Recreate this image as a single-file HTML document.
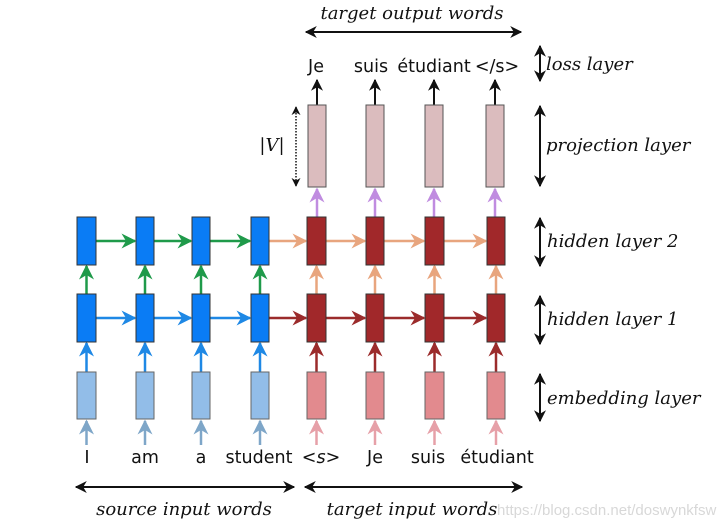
<!DOCTYPE html>
<html><head><meta charset="utf-8"><style>
html,body{margin:0;padding:0;background:#fff;width:728px;height:529px;overflow:hidden}
svg{display:block}
.s{font-family:"DejaVu Sans","Liberation Sans",sans-serif;font-size:17.5px;fill:#111}
.i{font-family:"DejaVu Serif","Liberation Serif",serif;font-style:italic;font-size:18px;fill:#111}
</style></head><body>
<svg width="728" height="529" viewBox="0 0 728 529" xmlns="http://www.w3.org/2000/svg">
<defs>
<marker id="ab" viewBox="0 0 10 10" refX="9" refY="5" markerWidth="6" markerHeight="6" orient="auto-start-reverse"><path d="M0,0 L10,5 L0,10 L3,5z" fill="#111"/></marker>
<marker id="ag" viewBox="0 0 10 10" refX="9" refY="5" markerWidth="6" markerHeight="6" orient="auto"><path d="M0,0 L10,5 L0,10 L3,5z" fill="#1f9a4a"/></marker>
<marker id="abl" viewBox="0 0 10 10" refX="9" refY="5" markerWidth="6" markerHeight="6" orient="auto"><path d="M0,0 L10,5 L0,10 L3,5z" fill="#1e88e5"/></marker>
<marker id="ar" viewBox="0 0 10 10" refX="9" refY="5" markerWidth="6" markerHeight="6" orient="auto"><path d="M0,0 L10,5 L0,10 L3,5z" fill="#9b2b2b"/></marker>
<marker id="ao" viewBox="0 0 10 10" refX="9" refY="5" markerWidth="6" markerHeight="6" orient="auto"><path d="M0,0 L10,5 L0,10 L3,5z" fill="#e8a57e"/></marker>
<marker id="ap" viewBox="0 0 10 10" refX="9" refY="5" markerWidth="6" markerHeight="6" orient="auto"><path d="M0,0 L10,5 L0,10 L3,5z" fill="#c08ce0"/></marker>
<marker id="as" viewBox="0 0 10 10" refX="9" refY="5" markerWidth="6" markerHeight="6" orient="auto"><path d="M0,0 L10,5 L0,10 L3,5z" fill="#7ea6c8"/></marker>
<marker id="ak" viewBox="0 0 10 10" refX="9" refY="5" markerWidth="6" markerHeight="6" orient="auto"><path d="M0,0 L10,5 L0,10 L3,5z" fill="#e6a0a8"/></marker>
</defs>

<text class="i" x="412" y="19" text-anchor="middle">target output words</text>
<line x1="306" y1="32" x2="521" y2="32" stroke="#111" stroke-width="2" marker-start="url(#ab)" marker-end="url(#ab)"/>
<text class="s" x="316" y="72" text-anchor="middle">Je</text>
<text class="s" x="371" y="72" text-anchor="middle">suis</text>
<text class="s" x="434" y="72" text-anchor="middle">étudiant</text>
<text class="s" x="497" y="72" text-anchor="middle">&lt;/s&gt;</text>
<g stroke="#111" stroke-width="2">
<line x1="317" y1="105" x2="317" y2="80" marker-end="url(#ab)"/>
<line x1="375" y1="105" x2="375" y2="80" marker-end="url(#ab)"/>
<line x1="434" y1="105" x2="434" y2="80" marker-end="url(#ab)"/>
<line x1="495" y1="105" x2="495" y2="80" marker-end="url(#ab)"/>
<line x1="540" y1="46" x2="540" y2="81" marker-start="url(#ab)" marker-end="url(#ab)"/>
<line x1="540" y1="106" x2="540" y2="186" marker-start="url(#ab)" marker-end="url(#ab)"/>
<line x1="540" y1="218" x2="540" y2="266" marker-start="url(#ab)" marker-end="url(#ab)"/>
<line x1="540" y1="296" x2="540" y2="344" marker-start="url(#ab)" marker-end="url(#ab)"/>
<line x1="540" y1="374" x2="540" y2="421" marker-start="url(#ab)" marker-end="url(#ab)"/>
<line x1="76" y1="487" x2="294" y2="487" marker-end="url(#ab)" marker-start="url(#ab)"/>
<line x1="305" y1="487" x2="522" y2="487" marker-start="url(#ab)" marker-end="url(#ab)"/>
</g>
<line x1="296" y1="107" x2="296" y2="186" stroke="#111" stroke-width="1.5" stroke-dasharray="1.5,1.5" marker-start="url(#ab)" marker-end="url(#ab)"/>
<text class="i" x="272" y="151" text-anchor="middle">|V|</text>

<text class="i" x="546" y="70">loss layer</text>
<text class="i" x="546" y="151">projection layer</text>
<text class="i" x="547" y="247">hidden layer 2</text>
<text class="i" x="547" y="325">hidden layer 1</text>
<text class="i" x="547" y="404">embedding layer</text>

<g fill="#dbbcbe" stroke="#555" stroke-width="1">
<rect x="308" y="105" width="18" height="82"/><rect x="366" y="105" width="18" height="82"/>
<rect x="425" y="105" width="18" height="82"/><rect x="486" y="105" width="18" height="82"/>
</g>
<g stroke="#c08ce0" stroke-width="2.5">
<line x1="317" y1="217" x2="317" y2="189" marker-end="url(#ap)"/>
<line x1="375" y1="217" x2="375" y2="189" marker-end="url(#ap)"/>
<line x1="434" y1="217" x2="434" y2="189" marker-end="url(#ap)"/>
<line x1="495" y1="217" x2="495" y2="189" marker-end="url(#ap)"/>
</g>

<g stroke-width="2.5">
<line x1="96" y1="241" x2="135" y2="241" stroke="#1f9a4a" marker-end="url(#ag)"/>
<line x1="154" y1="241" x2="191" y2="241" stroke="#1f9a4a" marker-end="url(#ag)"/>
<line x1="210" y1="241" x2="250" y2="241" stroke="#1f9a4a" marker-end="url(#ag)"/>
<line x1="269" y1="241" x2="306" y2="241" stroke="#e8a57e" marker-end="url(#ao)"/>
<line x1="326" y1="241" x2="365" y2="241" stroke="#e8a57e" marker-end="url(#ao)"/>
<line x1="384" y1="241" x2="424" y2="241" stroke="#e8a57e" marker-end="url(#ao)"/>
<line x1="444" y1="241" x2="486" y2="241" stroke="#e8a57e" marker-end="url(#ao)"/>
<line x1="96" y1="318" x2="135" y2="318" stroke="#1e88e5" marker-end="url(#abl)"/>
<line x1="154" y1="318" x2="191" y2="318" stroke="#1e88e5" marker-end="url(#abl)"/>
<line x1="210" y1="318" x2="250" y2="318" stroke="#1e88e5" marker-end="url(#abl)"/>
<line x1="269" y1="318" x2="306" y2="318" stroke="#9b2b2b" marker-end="url(#ar)"/>
<line x1="326" y1="318" x2="365" y2="318" stroke="#9b2b2b" marker-end="url(#ar)"/>
<line x1="384" y1="318" x2="424" y2="318" stroke="#9b2b2b" marker-end="url(#ar)"/>
<line x1="444" y1="318" x2="486" y2="318" stroke="#9b2b2b" marker-end="url(#ar)"/>
</g>
<g stroke-width="2.5">
<line x1="86.5" y1="294" x2="86.5" y2="266" stroke="#1f9a4a" marker-end="url(#ag)"/>
<line x1="145" y1="294" x2="145" y2="266" stroke="#1f9a4a" marker-end="url(#ag)"/>
<line x1="201" y1="294" x2="201" y2="266" stroke="#1f9a4a" marker-end="url(#ag)"/>
<line x1="260" y1="294" x2="260" y2="266" stroke="#1f9a4a" marker-end="url(#ag)"/>
<line x1="316.5" y1="294" x2="316.5" y2="266" stroke="#e8a57e" marker-end="url(#ao)"/>
<line x1="375" y1="294" x2="375" y2="266" stroke="#e8a57e" marker-end="url(#ao)"/>
<line x1="434.5" y1="294" x2="434.5" y2="266" stroke="#e8a57e" marker-end="url(#ao)"/>
<line x1="496" y1="294" x2="496" y2="266" stroke="#e8a57e" marker-end="url(#ao)"/>
<line x1="86.5" y1="372" x2="86.5" y2="343" stroke="#1e88e5" marker-end="url(#abl)"/>
<line x1="145" y1="372" x2="145" y2="343" stroke="#1e88e5" marker-end="url(#abl)"/>
<line x1="201" y1="372" x2="201" y2="343" stroke="#1e88e5" marker-end="url(#abl)"/>
<line x1="260" y1="372" x2="260" y2="343" stroke="#1e88e5" marker-end="url(#abl)"/>
<line x1="316.5" y1="372" x2="316.5" y2="343" stroke="#9b2b2b" marker-end="url(#ar)"/>
<line x1="375" y1="372" x2="375" y2="343" stroke="#9b2b2b" marker-end="url(#ar)"/>
<line x1="434.5" y1="372" x2="434.5" y2="343" stroke="#9b2b2b" marker-end="url(#ar)"/>
<line x1="496" y1="372" x2="496" y2="343" stroke="#9b2b2b" marker-end="url(#ar)"/>
<line x1="86.5" y1="445" x2="86.5" y2="421" stroke="#7ea6c8" marker-end="url(#as)"/>
<line x1="145" y1="445" x2="145" y2="421" stroke="#7ea6c8" marker-end="url(#as)"/>
<line x1="201" y1="445" x2="201" y2="421" stroke="#7ea6c8" marker-end="url(#as)"/>
<line x1="260" y1="445" x2="260" y2="421" stroke="#7ea6c8" marker-end="url(#as)"/>
<line x1="316.5" y1="445" x2="316.5" y2="421" stroke="#e6a0a8" marker-end="url(#ak)"/>
<line x1="375" y1="445" x2="375" y2="421" stroke="#e6a0a8" marker-end="url(#ak)"/>
<line x1="434.5" y1="445" x2="434.5" y2="421" stroke="#e6a0a8" marker-end="url(#ak)"/>
<line x1="496" y1="445" x2="496" y2="421" stroke="#e6a0a8" marker-end="url(#ak)"/>
</g>

<g stroke="#333" stroke-width="1">
<g fill="#0a7cf5">
<rect x="77" y="217" width="19" height="48"/><rect x="136" y="217" width="18" height="48"/><rect x="192" y="217" width="18" height="48"/><rect x="251" y="217" width="18" height="48"/>
<rect x="77" y="294" width="19" height="48"/><rect x="136" y="294" width="18" height="48"/><rect x="192" y="294" width="18" height="48"/><rect x="251" y="294" width="18" height="48"/>
</g>
<g fill="#a1282a">
<rect x="307" y="217" width="19" height="48"/><rect x="366" y="217" width="18" height="48"/><rect x="425" y="217" width="19" height="48"/><rect x="487" y="217" width="18" height="48"/>
<rect x="307" y="294" width="19" height="48"/><rect x="366" y="294" width="18" height="48"/><rect x="425" y="294" width="19" height="48"/><rect x="487" y="294" width="18" height="48"/>
</g>
<g fill="#92bde8" stroke="#666">
<rect x="77" y="372" width="19" height="47"/><rect x="136" y="372" width="18" height="47"/><rect x="192" y="372" width="18" height="47"/><rect x="251" y="372" width="18" height="47"/>
</g>
<g fill="#e28a8e" stroke="#666">
<rect x="307" y="372" width="19" height="47"/><rect x="366" y="372" width="18" height="47"/><rect x="425" y="372" width="19" height="47"/><rect x="487" y="372" width="18" height="47"/>
</g>
</g>

<text class="s" x="87" y="463" text-anchor="middle">I</text>
<text class="s" x="145" y="463" text-anchor="middle">am</text>
<text class="s" x="201" y="463" text-anchor="middle">a</text>
<text class="s" x="259" y="463" text-anchor="middle">student</text>
<text class="s" x="321" y="463" text-anchor="middle">&lt;<tspan font-style="italic">s</tspan>&gt;</text>
<text class="s" x="375" y="463" text-anchor="middle">Je</text>
<text class="s" x="428" y="463" text-anchor="middle">suis</text>
<text class="s" x="497" y="463" text-anchor="middle">étudiant</text>

<text class="i" x="184" y="515" text-anchor="middle">source input words</text>
<text class="i" x="412" y="515" text-anchor="middle">target input words</text>
<text x="497" y="515" font-family="Liberation Sans,sans-serif" font-size="15" fill="#d8d8d8">https://blog.csdn.net/doswynkfsw</text>
</svg>
</body></html>
